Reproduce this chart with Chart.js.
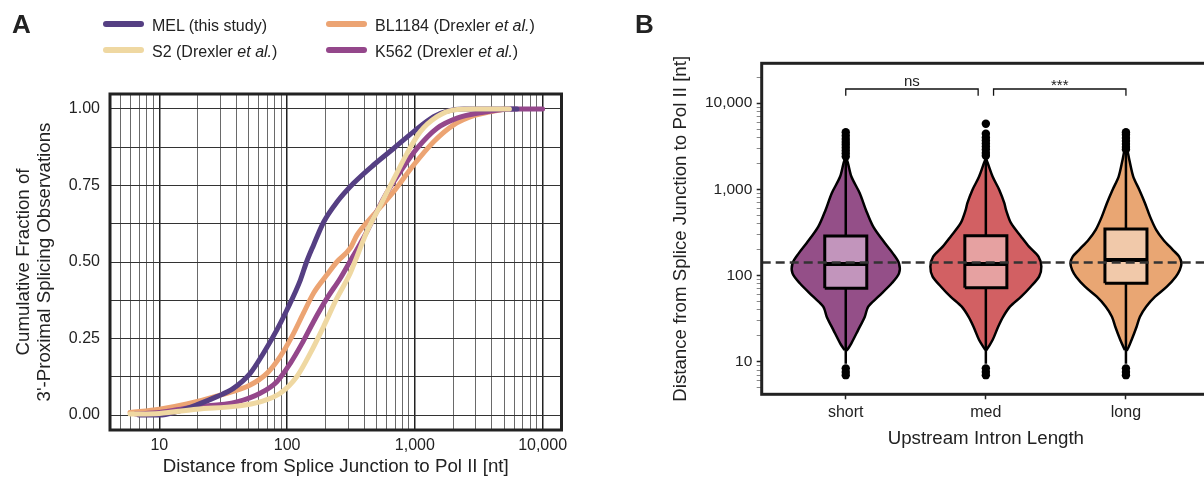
<!DOCTYPE html>
<html>
<head>
<meta charset="utf-8">
<script src="https://cdn.jsdelivr.net/npm/chart.js@4.4.1/dist/chart.umd.min.js"></script>
<style>
  html, body { margin: 0; padding: 0; background: #fff; overflow: hidden; }
  body { position: relative; width: 1204px; height: 480px; font-family: 'Liberation Sans', Arial, Helvetica, sans-serif; color: #222; }
  canvas { position: absolute; top: 0; }
  #chartA { left: 0; }
  #chartB { left: 640px; }
  .panel { position: absolute; font-weight: bold; font-size: 26px; line-height: 26px; }
  .key { position: absolute; height: 6px; width: 41px; border-radius: 3px; }
  .key-label { position: absolute; font-size: 16px; line-height: 20px; white-space: nowrap; }
</style>
</head>
<body>
<canvas id="chartA" width="600" height="480"></canvas>
<canvas id="chartB" width="580" height="480"></canvas>
<div class="panel" style="left:12px; top:11px">A</div>
<div class="panel" style="left:635px; top:11px">B</div>
<div id="legendA"></div>
<script>
const FONT = "'Liberation Sans', Arial, Helvetica, sans-serif";
Chart.defaults.font.family = FONT;
Chart.defaults.color = '#222';

// ---------- panel A: cumulative fraction vs distance ----------
const seriesNames = ['MEL (this study)', 'S2 (Drexler et al.)', 'BL1184 (Drexler et al.)', 'K562 (Drexler et al.)'];
const seriesColors = ['#553f83', '#efd8a2', '#eca473', '#94478b'];

const melDist = [6.9, 10, 13.7, 19.6, 28.2, 38, 51.4, 65.3, 83.2, 99.6, 127, 142, 161, 193, 245, 331, 475, 682, 979, 1404, 1787, 2400, 6300];
const melFrac = [0, 0, 0.011, 0.033, 0.06, 0.087, 0.136, 0.202, 0.278, 0.343, 0.441, 0.5, 0.555, 0.63, 0.695, 0.757, 0.817, 0.871, 0.926, 0.975, 0.993, 1, 1];
const s2Dist = [5.9, 10, 19.6, 40.5, 61.5, 88.3, 119, 152, 193, 245, 312, 339, 422, 537, 682, 869, 1104, 1493, 2014, 2900, 5500];
const s2Frac = [0.003, 0.005, 0.019, 0.029, 0.043, 0.071, 0.125, 0.202, 0.289, 0.381, 0.463, 0.5, 0.6, 0.685, 0.77, 0.855, 0.926, 0.975, 0.997, 1, 1];
const blDist = [5.9, 10, 16.4, 29.9, 51.4, 69.5, 88.3, 109, 134, 161, 205, 245, 312, 352, 475, 682, 979, 1404, 2014, 2892, 5000];
const blFrac = [0.008, 0.019, 0.036, 0.065, 0.098, 0.136, 0.191, 0.256, 0.332, 0.398, 0.458, 0.5, 0.545, 0.588, 0.654, 0.73, 0.817, 0.893, 0.948, 0.978, 1];
const k562Dist = [6.5, 10, 17.4, 40.5, 61.5, 83.2, 106, 131, 161, 205, 261, 309, 374, 422, 569, 769, 1040, 1493, 2142, 3070, 6000, 10000];
const k562Frac = [0.003, 0.008, 0.024, 0.043, 0.071, 0.109, 0.169, 0.234, 0.305, 0.381, 0.447, 0.5, 0.56, 0.6, 0.708, 0.795, 0.871, 0.937, 0.97, 0.986, 1, 1];

const xGridA = [5, 6, 7, 8, 9, 10, 20, 30, 40, 50, 60, 70, 80, 90, 100, 200, 300, 400, 500, 600, 700, 800, 900,
  1000, 2000, 3000, 4000, 5000, 6000, 7000, 8000, 9000, 10000];
const xLabelsA = [10, 100, 1000, 10000];
const yGridA = [0, 0.125, 0.25, 0.375, 0.5, 0.625, 0.75, 0.875, 1];
const yLabelsA = [0, 0.25, 0.5, 0.75, 1];

// ---------- panel B: violins per intron length group ----------
const groups = ['short', 'med', 'long'];
const violinFill = ['#944f88', '#d26063', '#e9a673'];
const boxFill = ['#c295bc', '#e6a1a1', '#f1c9aa'];
const boxQ1 = [71.2, 72.3, 81.4];
const boxMedian = [136, 136, 152];
const boxQ3 = [288, 290, 347];
const whiskerLow = [9.5, 9.5, 9.5];
const whiskerHigh = [2400, 2450, 2900];

const shortLevels = [13.7, 16.4, 23.3, 33.4, 43.6, 56.9, 81.5, 106, 139, 181, 237, 370, 578, 903, 1409, 2203];
const shortDensity = [0.02, 0.1, 0.22, 0.34, 0.4, 0.58, 0.82, 0.95, 0.95, 0.84, 0.7, 0.49, 0.36, 0.25, 0.1, 0.02];
const medLevels = [13.7, 17.9, 25.5, 33.4, 43.6, 56.9, 74.3, 97.1, 127, 166, 217, 283, 405, 578, 692, 986, 1409, 2203];
const medDensity = [0.01, 0.12, 0.22, 0.31, 0.43, 0.63, 0.8, 0.95, 0.99, 0.94, 0.77, 0.63, 0.45, 0.36, 0.33, 0.24, 0.12, 0.01];
const longLevels = [13.7, 17.9, 25.5, 33.4, 43.6, 56.9, 74.3, 97.1, 116, 139, 166, 198, 259, 339, 483, 692, 986, 1409, 2203, 2878];
const longDensity = [0.02, 0.1, 0.19, 0.25, 0.36, 0.52, 0.73, 0.89, 0.96, 0.99, 0.95, 0.84, 0.67, 0.54, 0.43, 0.34, 0.24, 0.13, 0.06, 0.02];

const highOutliers = [
  [2400, 2600, 2800, 3050, 3300, 3550, 3850, 4200, 4600],
  [2450, 2650, 2900, 3150, 3400, 3700, 4000, 4420, 5770],
  [2900, 3100, 3350, 3650, 3950, 4300, 4600]
];
const lowOutliers = [[7.0, 7.6, 8.4], [7.0, 7.6, 8.4], [7.0, 7.6, 8.4]];
const overallMedian = 142;
const comparisons = [['short', 'med', 'ns'], ['med', 'long', '***']];

const yTicksB = [5, 6, 7, 8, 9, 10, 20, 30, 40, 50, 60, 70, 80, 90, 100, 200, 300, 400, 500, 600, 700, 800, 900,
  1000, 2000, 3000, 4000, 5000, 6000, 7000, 8000, 9000, 10000, 20000];
const yLabelsB = [10, 100, 1000, 10000];

// ---------- helpers ----------
const fmt = v => v.toLocaleString('en-US');
const TITLE_SIZE = 18.7;

const frame = {
  id: 'frame',
  afterDraw(chart) {
    const { ctx, chartArea: a } = chart;
    ctx.save();
    ctx.strokeStyle = '#222';
    ctx.lineWidth = 3;
    ctx.strokeRect(a.left, a.top, a.right - a.left, a.bottom - a.top);
    ctx.restore();
  }
};

// legend for panel A (html, so "et al." can be italic)
const legendPos = [[103, 21], [103, 47], [326, 21], [326, 47]];
document.getElementById('legendA').innerHTML = seriesNames.map((name, i) => {
  const [lx, ly] = legendPos[i];
  const label = name.replace('et al.', '<i>et al.</i>');
  return `<div class="key" style="left:${lx}px;top:${ly}px;background:${seriesColors[i]}"></div>` +
    `<div class="key-label" style="left:${lx + 49}px;top:${ly - 5}px">${label}</div>`;
}).join('');

function curve(xs, ys, i, order) {
  return {
    label: seriesNames[i],
    data: xs.map((x, k) => ({ x, y: ys[k] })),
    borderColor: seriesColors[i],
    borderWidth: 5,
    borderCapStyle: 'round',
    borderJoinStyle: 'round',
    cubicInterpolationMode: 'monotone',
    pointRadius: 0,
    fill: false,
    order
  };
}

new Chart(document.getElementById('chartA'), {
  type: 'line',
  data: {
    datasets: [
      curve(s2Dist, s2Frac, 1, 10),
      curve(melDist, melFrac, 0, 20),
      curve(k562Dist, k562Frac, 3, 30),
      curve(blDist, blFrac, 2, 40)
    ]
  },
  options: {
    responsive: false,
    animation: false,
    events: [],
    layout: { padding: { left: 0, right: 38.5, top: 94, bottom: 0 } },
    plugins: { legend: { display: false }, tooltip: { enabled: false } },
    scales: {
      x: {
        type: 'logarithmic',
        min: 4.11,
        max: 14060,
        bounds: 'data',
        afterBuildTicks: s => { s.ticks = xGridA.map(v => ({ value: v })); },
        afterFit: s => { s.height = 50; },
        border: { display: false },
        grid: {
          drawTicks: false,
          color: c => xLabelsA.includes(c.tick.value) ? '#222' : '#6a6a6a',
          lineWidth: c => xLabelsA.includes(c.tick.value) ? 1.5 : 1
        },
        ticks: {
          autoSkip: false, maxRotation: 0, minRotation: 0, padding: 6,
          font: { size: 16 },
          callback: v => xLabelsA.includes(v) ? fmt(v) : ''
        },
        title: {
          display: true, text: 'Distance from Splice Junction to Pol II [nt]',
          font: { size: TITLE_SIZE }, padding: { top: 0, bottom: 2.1 }
        }
      },
      y: {
        type: 'linear',
        min: -0.049,
        max: 1.049,
        bounds: 'data',
        afterBuildTicks: s => { s.ticks = yGridA.map(v => ({ value: v })); },
        afterFit: s => { s.width = 110; },
        border: { display: false },
        grid: { drawTicks: false, color: '#333', lineWidth: 1 },
        ticks: {
          padding: 10, font: { size: 16 },
          callback: v => yLabelsA.includes(v) ? v.toFixed(2) : ''
        },
        title: {
          display: true,
          text: ['Cumulative Fraction of', "3'-Proximal Splicing Observations"],
          font: { size: TITLE_SIZE, lineHeight: 1.128 }, padding: { top: 13.4, bottom: 0 }
        }
      }
    }
  },
  plugins: [frame]
});

// ---------- panel B ----------
const violinHalf = 0.4;   // max half width of a violin, in category units
const boxHalf = 0.15;
const bracketTop = 14600, bracketFoot = 12200, bracketGap = 0.055;

function violinDatasets(i, levels, density) {
  const left = levels.map((y, k) => ({ x: i - density[k] * violinHalf, y }));
  const right = levels.map((y, k) => ({ x: i + density[k] * violinHalf, y })).reverse();
  const outline = left.concat(right, [left[0]]);
  const box = [
    { x: i - boxHalf, y: boxQ1[i] }, { x: i + boxHalf, y: boxQ1[i] },
    { x: i + boxHalf, y: boxQ3[i] }, { x: i - boxHalf, y: boxQ3[i] },
    { x: i - boxHalf, y: boxQ1[i] }
  ];
  const base = { pointRadius: 0, borderColor: '#000', fill: false, tension: 0 };
  return [
    { ...base, data: outline, backgroundColor: violinFill[i], fill: 'shape', borderWidth: 2.5, tension: 0.3, borderJoinStyle: 'round', order: 50 },
    { ...base, data: [{ x: i, y: whiskerLow[i] }, { x: i, y: whiskerHigh[i] }], borderWidth: 2.5, order: 40 },
    { ...base, data: box, backgroundColor: boxFill[i], fill: 'shape', borderWidth: 3, borderJoinStyle: 'miter', order: 30 },
    { ...base, data: [{ x: i - boxHalf, y: boxMedian[i] }, { x: i + boxHalf, y: boxMedian[i] }], borderWidth: 4, order: 20 },
    {
      data: highOutliers[i].concat(lowOutliers[i]).map(y => ({ x: i, y })),
      showLine: false, pointRadius: 4.2, pointBorderWidth: 0,
      pointBackgroundColor: '#000', order: 15
    }
  ];
}

const bracketSets = comparisons.map(([a, b]) => {
  const x0 = groups.indexOf(a) + (a === 'med' ? bracketGap : 0);
  const x1 = groups.indexOf(b) - (b === 'med' ? bracketGap : 0);
  return {
    data: [{ x: x0, y: bracketFoot }, { x: x0, y: bracketTop }, { x: x1, y: bracketTop }, { x: x1, y: bracketFoot }],
    borderColor: '#111', borderWidth: 1.3, pointRadius: 0, fill: false, tension: 0, order: 5
  };
});

const sigLabels = {
  id: 'sigLabels',
  afterDatasetsDraw(chart) {
    const { ctx, scales: { x, y } } = chart;
    ctx.save();
    ctx.font = '15px ' + FONT;
    ctx.fillStyle = '#222';
    ctx.textAlign = 'center';
    ctx.textBaseline = 'alphabetic';
    comparisons.forEach(([a, b, label]) => {
      const x0 = groups.indexOf(a) + (a === 'med' ? bracketGap : 0);
      const x1 = groups.indexOf(b) - (b === 'med' ? bracketGap : 0);
      const inkBottom = y.getPixelForValue(bracketTop) - 3.3;
      const m = ctx.measureText(label);
      ctx.fillText(label, x.getPixelForValue((x0 + x1) / 2), inkBottom - m.actualBoundingBoxDescent);
    });
    ctx.restore();
  }
};

new Chart(document.getElementById('chartB'), {
  type: 'line',
  data: {
    datasets: [
      ...violinDatasets(0, shortLevels, shortDensity),
      ...violinDatasets(1, medLevels, medDensity),
      ...violinDatasets(2, longLevels, longDensity),
      {
        data: [{ x: -0.6, y: overallMedian }, { x: 2.6, y: overallMedian }],
        borderColor: '#333', borderWidth: 2.5, borderDash: [9, 5],
        pointRadius: 0, fill: false, order: 1
      },
      ...bracketSets
    ]
  },
  options: {
    responsive: false,
    animation: false,
    events: [],
    layout: { padding: { left: 0, right: 10, top: 63.3, bottom: 0 } },
    plugins: { legend: { display: false }, tooltip: { enabled: false } },
    scales: {
      x: {
        type: 'linear',
        min: -0.6,
        max: 2.6,
        bounds: 'data',
        afterBuildTicks: s => { s.ticks = groups.map((g, i) => ({ value: i })); },
        afterFit: s => { s.height = 85.7; },
        border: { display: false },
        grid: { drawOnChartArea: false, drawTicks: true, tickLength: 5, tickColor: '#222', tickWidth: 1.5 },
        ticks: {
          autoSkip: false, maxRotation: 0, minRotation: 0, padding: 3.8,
          font: { size: 16 },
          callback: v => groups[v] ?? ''
        },
        title: {
          display: true, text: 'Upstream Intron Length',
          font: { size: TITLE_SIZE }, padding: { top: 0, bottom: 30.4 }
        }
      },
      y: {
        type: 'logarithmic',
        min: 4.2,
        max: 29000,
        bounds: 'data',
        afterBuildTicks: s => { s.ticks = yTicksB.map(v => ({ value: v })); },
        afterFit: s => { s.width = 121.7; },
        border: { display: false },
        grid: {
          drawOnChartArea: false, drawTicks: true, tickLength: 5,
          tickColor: c => yLabelsB.includes(c.tick.value) ? '#222' : '#888',
          tickWidth: c => yLabelsB.includes(c.tick.value) ? 1.5 : 1
        },
        ticks: {
          autoSkip: false, padding: 4.4, font: { size: 15.5 },
          callback: v => yLabelsB.includes(v) ? fmt(v) : ''
        },
        title: {
          display: true, text: 'Distance from Splice Junction to Pol II [nt]',
          font: { size: TITLE_SIZE }, padding: { top: 29.7, bottom: 0 }
        }
      }
    }
  },
  plugins: [frame, sigLabels]
});
</script>
</body>
</html>
